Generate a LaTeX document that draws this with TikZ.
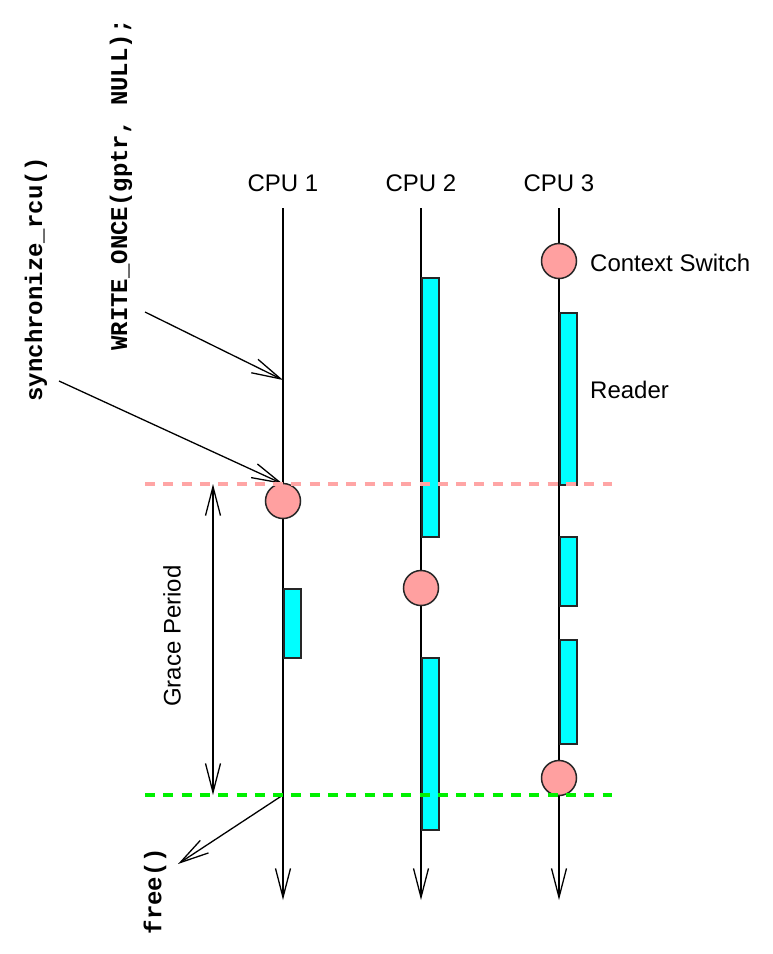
\documentclass[tikz,border=0pt]{standalone}
\usepackage{fontspec}
\setmainfont{Liberation Sans}
\newfontfamily\codefont{Liberation Mono}
\usetikzlibrary{arrows.meta}
\definecolor{cspink}{RGB}{255,160,160}
\definecolor{gppink}{RGB}{255,165,165}
\definecolor{gpgreen}{RGB}{0,240,0}
\definecolor{rdcyan}{RGB}{0,255,255}
\begin{document}
\begin{tikzpicture}[x=1pt,y=-1pt,
  barb/.style={-{Straight Barb[length=29pt,width=15pt]}},
  life/.style={line width=1.3pt, barb},
  pointer/.style={line width=1.3pt, barb},
  readbar/.style={draw=black!85, line width=1.5pt, fill=rdcyan, minimum width=17pt, inner sep=0pt, anchor=north west},
  cswitch/.style={circle, draw=black!85, line width=1.5pt, fill=cspink, minimum size=35pt, inner sep=0pt},
  gpline/.style={line width=3.5pt, dash pattern=on 10pt off 8.3pt},
  lbl/.style={font=\fontsize{24}{28}\selectfont, inner sep=0pt},
  code/.style={font=\codefont\bfseries\fontsize{24}{28}\selectfont, inner sep=0pt, rotate=90}
]
\fill[white] (0,0) rectangle (772,954);
\useasboundingbox (0,0) rectangle (772,954);

% lifeline coordinates
\coordinate (l1t) at (283,208); \coordinate (l1b) at (283,900);
\coordinate (l2t) at (421,208); \coordinate (l2b) at (421,900);
\coordinate (l3t) at (559,208); \coordinate (l3b) at (559,900);

\draw[life] (l1t) -- (l1b);
\draw[life] (l2t) -- (l2b);
\draw[life] (l3t) -- (l3b);

% CPU labels
\node[lbl] (cpu1) at (283,183) {CPU 1};
\node[lbl] (cpu2) at (421,183) {CPU 2};
\node[lbl] (cpu3) at (559,183) {CPU 3};

% code labels
\node[code] (wo) at (121,185) {WRITE\_ONCE(gptr, NULL);};
\node[code] (sr) at (36,279) {synchronize\_rcu()};
\node[code] (fr) at (155,891) {free()};

% pointer coordinates
\coordinate (woS) at (145,312); \coordinate (woE) at (283,380);
\coordinate (srS) at (59,381);  \coordinate (srE) at (283,484);
\coordinate (frS) at (283,795); \coordinate (frE) at (178,864);
\draw[pointer] (woS) -- (woE);
\draw[pointer] (srS) -- (srE);
\draw[pointer] (frS) -- (frE);

% grace period arrow
\coordinate (gpT) at (213,484); \coordinate (gpB) at (213,795);
\draw[line width=1.3pt, {Straight Barb[length=29pt,width=15pt]}-{Straight Barb[length=29pt,width=15pt]}] (gpT) -- (gpB);
\node[lbl, rotate=90] (gp) at (172,636) {Grace Period};

% reader bars
\node[readbar, minimum height=69pt]  (b11) at (283,588) {};
\node[readbar, minimum height=259pt] (b21) at (421,277) {};
\node[readbar, minimum height=172pt] (b22) at (421,657) {};
\node[readbar, minimum height=172pt] (b31) at (559,312) {};
\node[readbar, minimum height=69pt]  (b32) at (559,536) {};
\node[readbar, minimum height=104pt] (b33) at (559,639) {};

% context switches
\node[cswitch] (c1) at (283,501) {};
\node[cswitch] (c2) at (421,588) {};
\node[cswitch] (c3a) at (559,261) {};
\node[cswitch] (c3b) at (559,778) {};

% grace period boundaries
\coordinate (pkL) at (145,484); \coordinate (pkR) at (612,484);
\coordinate (grL) at (145,795); \coordinate (grR) at (612,795);
\draw[gpline, gppink] (pkL) -- (pkR);
\draw[gpline, gpgreen] (grL) -- (grR);

% legend labels
\node[lbl, anchor=west] (csl) at (590,263) {Context Switch};
\node[lbl, anchor=west] (rdl) at (590,390) {Reader};
\end{tikzpicture}
\end{document}
